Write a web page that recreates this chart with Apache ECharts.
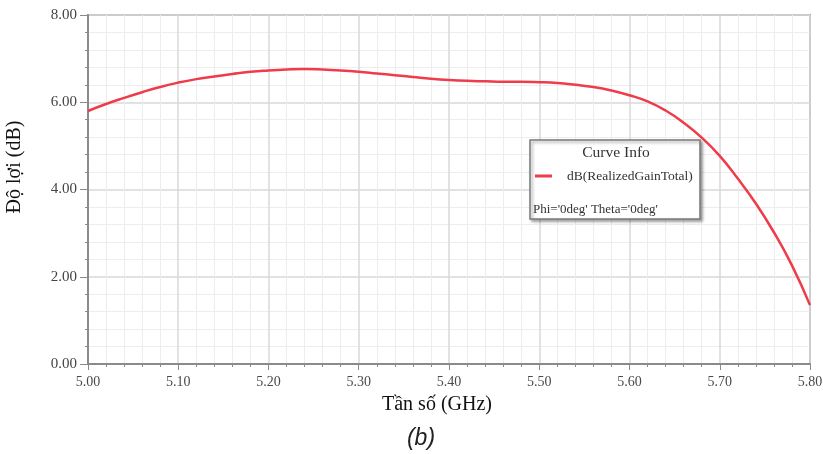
<!DOCTYPE html>
<html>
<head>
<meta charset="utf-8">
<script src="https://cdn.jsdelivr.net/npm/echarts@6/dist/echarts.min.js"></script>
<style>
  html, body { margin: 0; padding: 0; background: #fff; }
  #chart { width: 823px; height: 454px; }
</style>
</head>
<body>
<div id="chart"></div>
<script>
// Frequency sweep (GHz) and realized gain (dB)
const freqGHz = [5.00, 5.02, 5.04, 5.06, 5.08, 5.10, 5.12, 5.14, 5.16, 5.18, 5.20,
                 5.22, 5.24, 5.26, 5.28, 5.30, 5.32, 5.34, 5.36, 5.38, 5.40,
                 5.42, 5.44, 5.46, 5.48, 5.50, 5.52, 5.54, 5.56, 5.58, 5.60,
                 5.62, 5.64, 5.66, 5.68, 5.70, 5.72, 5.74, 5.76, 5.78, 5.80];
const gainDb  = [5.80, 5.96, 6.10, 6.23, 6.35, 6.45, 6.53, 6.59, 6.65, 6.70, 6.73,
                 6.75, 6.76, 6.75, 6.73, 6.70, 6.66, 6.62, 6.58, 6.54, 6.51,
                 6.49, 6.48, 6.47, 6.47, 6.46, 6.44, 6.40, 6.35, 6.27, 6.16,
                 6.02, 5.81, 5.53, 5.19, 4.77, 4.25, 3.68, 3.02, 2.26, 1.35];
const xTickLabels = ['5.00', '5.10', '5.20', '5.30', '5.40', '5.50', '5.60', '5.70', '5.80'];
const yTickLabels = ['0.00', '2.00', '4.00', '6.00', '8.00'];
const seriesName = 'dB(RealizedGainTotal)';

const serif = '"Liberation Serif", "Times New Roman", serif';
const chart = echarts.init(document.getElementById('chart'));

chart.setOption({
  animation: false,
  backgroundColor: '#fff',
  grid: {
    left: 88, top: 15, width: 722, height: 349, show: true,
    borderColor: '#a8a8a8', borderWidth: 2,
    containLabel: false, outerBoundsMode: 'none'
  },
  xAxis: {
    type: 'value', min: 5.0, max: 5.8, interval: 0.1,
    axisLine: { lineStyle: { color: '#8a8a8a', width: 2 } },
    axisTick: { show: true, length: 6, lineStyle: { color: '#8a8a8a' } },
    minorTick: { show: true, splitNumber: 5, length: 3, lineStyle: { color: '#8a8a8a' } },
    splitLine: { show: true, lineStyle: { color: '#d9d9d9', width: 1.5 } },
    minorSplitLine: { show: true, lineStyle: { color: '#ededed', width: 1 } },
    axisLabel: {
      fontFamily: serif, fontSize: 14, color: '#4a4a4a', margin: 11,
      formatter: v => xTickLabels[Math.round((v - 5.0) / 0.1)]
    }
  },
  yAxis: {
    type: 'value', min: 0, max: 8, interval: 2,
    axisLine: { show: true, lineStyle: { color: '#8a8a8a', width: 2 } },
    axisTick: { show: true, length: 8, lineStyle: { color: '#8a8a8a' } },
    minorTick: { show: true, splitNumber: 5, length: 3, lineStyle: { color: '#8a8a8a' } },
    splitLine: { show: true, lineStyle: { color: '#d9d9d9', width: 1.5 } },
    minorSplitLine: { show: true, lineStyle: { color: '#ededed', width: 1 } },
    axisLabel: {
      fontFamily: serif, fontSize: 15, color: '#444', margin: 11,
      formatter: v => yTickLabels[Math.round(v / 2)]
    }
  },
  legend: {
    show: true, left: 530, top: 164, orient: 'vertical', z: 20,
    itemWidth: 17, itemHeight: 3, itemGap: 4,
    icon: 'rect',
    textStyle: { fontFamily: serif, fontSize: 13.5, color: '#333', padding: [0, 0, 0, 10] },
    data: [seriesName]
  },
  series: [{
    name: seriesName, type: 'line', smooth: true, showSymbol: false,
    lineStyle: { color: '#ef3b4a', width: 2.5 },
    itemStyle: { color: '#ef3b4a' },
    data: freqGHz.map((f, i) => [f, gainDb[i]]),
    z: 5
  }],
  graphic: [
    // axis titles
    { type: 'text', x: 15, y: 167, rotation: Math.PI / 2,
      style: { text: 'Độ lợi (dB)', fontFamily: serif, fontSize: 20, fill: '#111', align: 'center', verticalAlign: 'middle' } },
    { type: 'text', x: 437, y: 405,
      style: { text: 'Tần số (GHz)', fontFamily: serif, fontSize: 20, fill: '#111', align: 'center', verticalAlign: 'middle' } },
    // curve info box
    { type: 'rect', shape: { x: 530, y: 140, width: 170, height: 79 },
      style: { fill: '#fff', stroke: '#7a7a7a', lineWidth: 1.5, shadowBlur: 3, shadowOffsetX: 2, shadowOffsetY: 2, shadowColor: 'rgba(0,0,0,0.35)' }, z: 10 },
    { type: 'text', x: 616, y: 153, style: { text: 'Curve Info', fontFamily: serif, fontSize: 15.5, fill: '#333', align: 'center', verticalAlign: 'middle' }, z: 11 },
    { type: 'text', x: 533, y: 210, style: { text: "Phi='0deg' Theta='0deg'", fontFamily: serif, fontSize: 13, fill: '#333', align: 'left', verticalAlign: 'middle' }, z: 11 },
    // panel label
    { type: 'text', x: 421, y: 439,
      style: { text: '(b)', fontFamily: '"Liberation Sans", Arial, sans-serif', fontSize: 23, fontStyle: 'italic', fill: '#222', align: 'center', verticalAlign: 'middle' } }
  ]
});
</script>
</body>
</html>
